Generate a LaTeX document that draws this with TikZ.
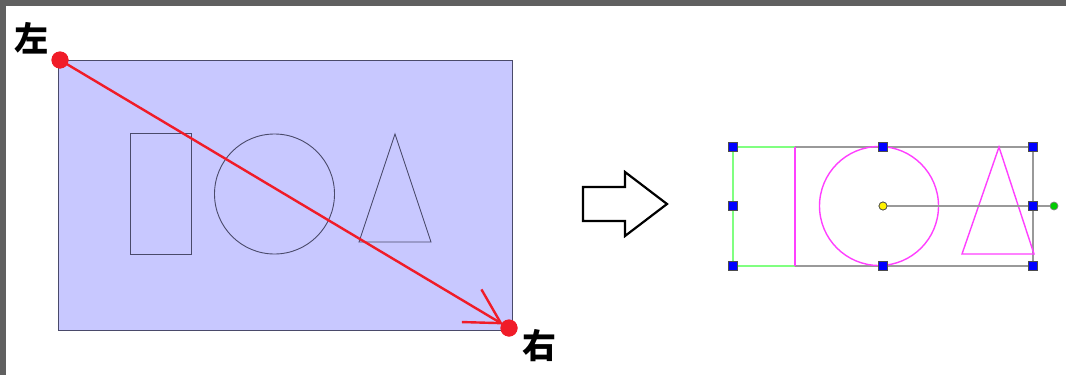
\documentclass[tikz,border=0pt]{standalone}
\usepackage{fontspec}
\newfontfamily\cjk{Noto Sans CJK JP}
\usetikzlibrary{arrows.meta}
\definecolor{frame}{HTML}{606060}
\definecolor{areafill}{HTML}{C8C8FF}
\definecolor{shapeline}{HTML}{4A4A6A}
\definecolor{selred}{HTML}{F01C28}
\definecolor{handlegray}{HTML}{999999}
\definecolor{handlegreen}{HTML}{80FF80}
\definecolor{shapemag}{HTML}{FF40FF}
\tikzset{
  thinshape/.style={draw=shapeline, line width=0.9pt},
  reddot/.style={circle, fill=selred, inner sep=0pt, minimum size=17pt},
  lbl/.style={font=\cjk\bfseries\fontsize{34}{34}\selectfont, inner sep=0pt},
  handle/.style={draw=black!70, fill=blue, inner sep=0pt, minimum size=8.5pt, line width=0.7pt},
  ydot/.style={circle, draw=black!70, fill=yellow, inner sep=0pt, minimum size=8pt, line width=0.7pt},
  gdot/.style={circle, draw=black!50, fill=green!80!black, inner sep=0pt, minimum size=8pt, line width=0.7pt},
  gline/.style={draw=handlegray, line width=2.2pt},
  grline/.style={draw=handlegreen, line width=2.2pt},
  magline/.style={draw=shapemag, line width=1.4pt},
}
\begin{document}
\begin{tikzpicture}[x=1pt,y=-1pt]
\useasboundingbox (0,0) rectangle (1066,375);
\fill[white] (0,0) rectangle (1066,375);
\fill[frame] (0,0) rectangle (1066,6);
\fill[frame] (0,0) rectangle (6,375);
% left panel
\draw[fill=areafill, draw=shapeline, line width=1pt] (58,60) rectangle (512,330);
\draw[thinshape] (130,133) rectangle (191,254);
\draw[thinshape] (274.5,194) circle[radius=60];
\draw[thinshape] (395,134) -- (359,242) -- (431,242) -- cycle;
\node[reddot] (L) at (60,60) {};
\node[reddot] (R) at (509,328) {};
\draw[selred, line width=2.4pt, line cap=round, shorten >=7pt,
  -{Straight Barb[length=34pt,width=38pt,line width=2.4pt]}] (L.center) -- (R.center);
\node[reddot] at (R) {};
\node[reddot] at (L) {};
\node[lbl] (lt) at (31,38) {左};
\node[lbl] (rt) at (539,346) {右};
% block arrow
\draw[black, line width=2.2pt, line join=miter, fill=white]
  (583,187) -- (625,187) -- (625,172) -- (667,204) -- (625,236) -- (625,221) -- (583,221) -- cycle;
% right panel
\draw[gline] (795,147) -- (1033,147) -- (1033,266) -- (795,266);
\draw[grline] (795,147) -- (733,147) -- (733,266) -- (795,266);
\draw[magline] (795,147) -- (795,266);
\draw[magline] (879,206) circle[radius=59.5];
\draw[magline] (999,147) -- (962,254) -- (1034,254) -- cycle;
\node[ydot] (c) at (883,206) {};
\node[gdot] (rot) at (1054,206) {};
\draw[gline] (c) -- (rot);
\node[ydot] at (883,206) {};
\foreach \n/\px/\py in {h1/733/147, h2/883/147, h3/1033/147, h4/733/206, h5/1033/206, h6/733/266, h7/883/266, h8/1033/266}
  \node[handle] (\n) at (\px,\py) {};
\end{tikzpicture}
\end{document}
